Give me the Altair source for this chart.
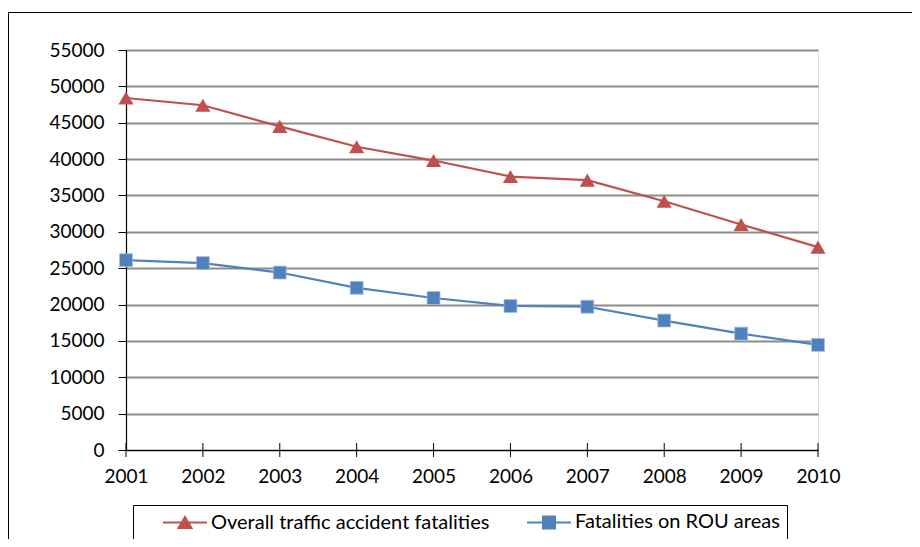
import altair as alt
import pandas as pd

years = [2001, 2002, 2003, 2004, 2005, 2006, 2007, 2008, 2009, 2010]
overall = [48400, 47400, 44500, 41700, 39800, 37600, 37100, 34200, 31000, 27900]
rou = [26100, 25700, 24400, 22300, 20900, 19800, 19700, 17800, 16000, 14450]
series_names = ["Overall traffic accident fatalities", "Fatalities on ROU areas"]
series_colors = ["#C0504D", "#4F81BD"]
y_ticks = list(range(0, 55001, 5000))

FONT = "Lato"
FS = 19

df = pd.DataFrame({
    "year": years * 2,
    "value": overall + rou,
    "series": [series_names[0]] * len(years) + [series_names[1]] * len(years),
})
tick_df = pd.DataFrame({"year": years, "value": [0] * len(years)})

x_scale = alt.Scale(domain=[years[0], years[-1]], nice=False, zero=False)
y_scale = alt.Scale(domain=[0, 55000], nice=False)
x_axis = alt.Axis(values=years, format="d", title=None, grid=False, ticks=False,
                  labelPadding=17, labelFlush=False, labelOverlap=False, labelBound=False,
                  domainColor="black", domainWidth=1.2,
                  labelFont=FONT, labelFontSize=FS, labelColor="black")
y_axis = alt.Axis(values=y_ticks, format="d", title=None, grid=True,
                  gridColor="#8c8c8c", gridWidth=1.8, tickColor="black",
                  tickSize=8, labelPadding=14, labelFlush=False, labelOverlap=False,
                  labelBound=False, domainColor="black", domainWidth=1.2,
                  labelFont=FONT, labelFontSize=FS, labelColor="black")
x_enc = alt.X("year:Q", scale=x_scale, axis=x_axis)
y_enc = alt.Y("value:Q", scale=y_scale, axis=y_axis)

base = alt.Chart(df)

line_a = base.transform_filter(alt.datum.series == series_names[0]).mark_line(
    strokeWidth=2.2, color=series_colors[0]).encode(x=x_enc, y=y_enc)
line_b = base.transform_filter(alt.datum.series == series_names[1]).mark_line(
    strokeWidth=2.2, color=series_colors[1]).encode(x=x_enc, y=y_enc)

tri = base.transform_filter(alt.datum.series == series_names[0]).mark_point(
    shape="triangle-up", filled=True, size=230, opacity=1, color=series_colors[0]
).encode(x=x_enc, y=y_enc)

sq = base.transform_filter(alt.datum.series == series_names[1]).mark_point(
    shape="square", filled=True, size=165, opacity=1, color=series_colors[1],
    stroke="#9DB9DE", strokeWidth=0.8
).encode(x=x_enc, y=y_enc)

xticks = alt.Chart(tick_df).mark_tick(
    orient="vertical", size=14, thickness=1, color="black", opacity=1
).encode(x=x_enc, y=y_enc)

legend_paths = [
    "M-2.44,0H2.44M0,-0.62L0.72,0.6L-0.72,0.6Z",
    "M-2.44,0H2.44M-0.67,-0.67H0.67V0.67H-0.67Z",
]
leg = alt.Legend(title=None, orient="none", direction="horizontal",
                 legendX=7, legendY=455, labelFont=FONT, labelFontSize=20,
                 labelColor="black", labelLimit=500, symbolSize=324,
                 symbolStrokeWidth=2, symbolOffset=35, labelOffset=16,
                 columnPadding=14, padding=7, strokeColor="black", symbolOpacity=1,
                 labelExpr="datum.value == '" + series_names[1] + "' ? datum.label + '\u2003\u2003' : datum.label")

legend_layer = base.transform_filter("false").mark_point(
    filled=True, opacity=1, strokeWidth=2
).encode(
    x=x_enc, y=y_enc,
    fill=alt.Fill("series:N", scale=alt.Scale(domain=series_names, range=series_colors), legend=leg),
    stroke=alt.Stroke("series:N", scale=alt.Scale(domain=series_names, range=series_colors), legend=leg),
    shape=alt.Shape("series:N", scale=alt.Scale(domain=series_names, range=legend_paths), legend=leg),
)

frame = alt.Chart(pd.DataFrame({"a": [0]})).mark_rect(
    fill="transparent", stroke="black", strokeWidth=1
).encode(x=alt.value(-117.5), x2=alt.value(1000), y=alt.value(-37.5), y2=alt.value(700))

chart = alt.layer(frame, line_a, line_b, tri, sq, xticks, legend_layer).properties(
    width=692, height=400,
    autosize=alt.AutoSizeParams(type="none"),
    padding={"left": 118, "top": 42, "right": 94, "bottom": 89},
).configure_view(stroke="black", strokeWidth=1.2).configure(background="white")

chart.save("out.html", embed_options={"renderer": "svg", "actions": False})
